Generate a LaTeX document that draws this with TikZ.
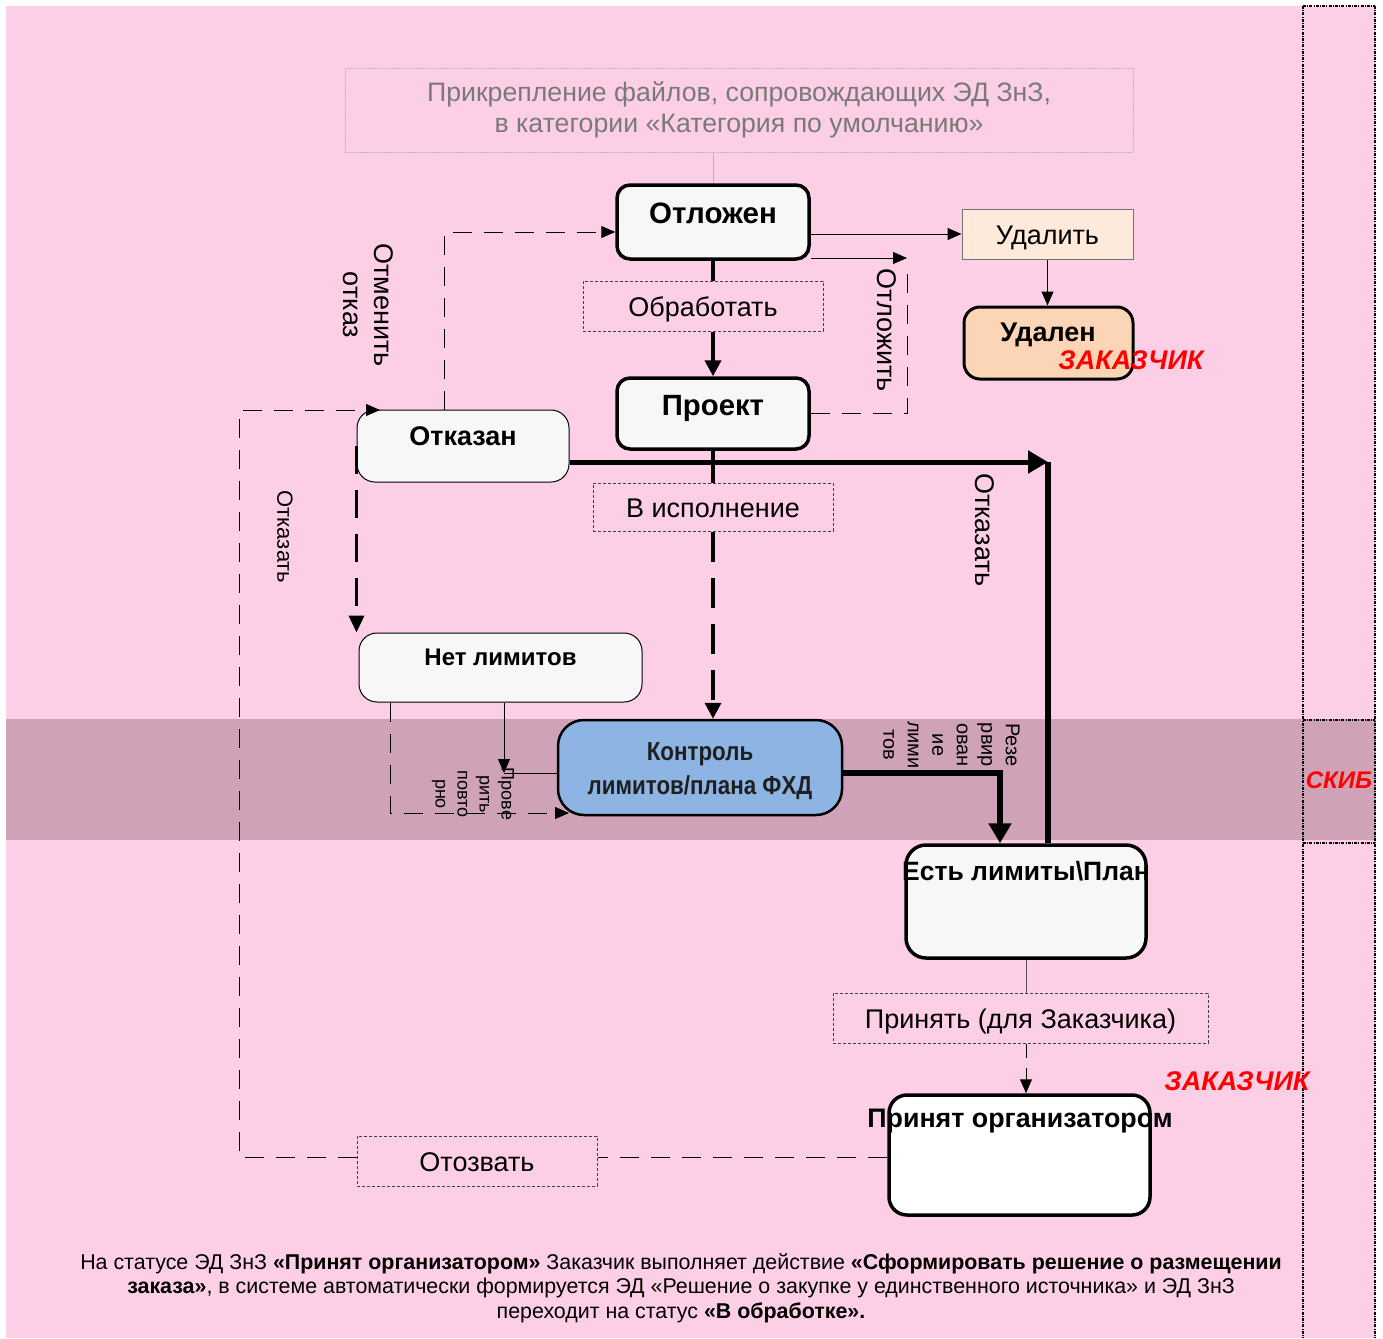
\documentclass[tikz,border=0pt]{standalone}
\usepackage{fontspec}
\setmainfont{Liberation Sans}
\usetikzlibrary{arrows.meta,calc}
\definecolor{pinkbg}{RGB}{253,207,231}
\definecolor{bandc}{RGB}{207,162,184}
\definecolor{boxfill}{RGB}{247,247,247}
\definecolor{peachA}{RGB}{253,234,218}
\definecolor{peachB}{RGB}{251,213,181}
\definecolor{blueb}{RGB}{142,180,227}
\definecolor{redz}{RGB}{255,0,0}
\newcommand\fsz[2]{\fontsize{#1}{#2}\selectfont}
\tikzset{
  statebox/.style={draw, rounded corners=13pt, fill=boxfill, inner sep=0pt, line width=3.5pt},
  thinstate/.style={draw, rounded corners=18pt, fill=boxfill, inner sep=0pt, line width=1pt},
  actbox/.style={draw=black!75, dash pattern=on 3pt off 2pt, line width=1pt, inner sep=0pt, font=\fsz{27}{32}, text height=24pt, text depth=2.6pt},
  stxt/.style={font=\bfseries\fsz{27}{32}},
  lbl/.style={font=\fsz{27}{31}, rotate=-90, align=center},
  smalllbl/.style={font=\fsz{20}{24.5}, rotate=-90, align=center},
  zak/.style={text=redz, font=\bfseries\itshape\fsz{27}{32}},
  thinarr/.style={line width=1pt, -{Triangle[length=14pt,width=12pt]}},
  thickarr/.style={line width=4pt, -{Triangle[length=20pt,width=22pt]}},
  midarr/.style={line width=4pt, -{Triangle[length=16pt,width=16pt]}},
  thinline/.style={line width=1pt, dash pattern=on 19pt off 12pt},
  thickdashA/.style={line width=3.5pt, dash pattern=on 28pt off 16pt},
  lanebord/.style={line width=1.6pt, dash pattern=on 3pt off 1.2pt on 1pt off 1.2pt},
}
\begin{document}
\begin{tikzpicture}[x=1pt,y=-1pt]
\useasboundingbox (0,0) rectangle (1383,1338);
\fill[white] (0,0) rectangle (1383,1338);
\fill[pinkbg] (6,6) rectangle (1376,1338);
\fill[bandc] (6,719) rectangle (1376,840);
\draw[lanebord] (1303,6) -- (1303,1338);
\draw[lanebord] (1375,6) -- (1375,1338);
\draw[lanebord] (1303,6) -- (1375,6);
\draw[lanebord] (1303,720) -- (1375,720);
\draw[lanebord] (1303,843) -- (1375,843);
\node[text=redz, font=\bfseries\itshape\fsz{24}{28}] (skib) at (1339,780) {СКИБ};

% top note box
\node[draw=gray!55, dash pattern=on 2pt off 1pt, line width=1pt, minimum width=788pt, minimum height=84pt, inner sep=0pt,
      align=center, text=gray!95!black, font=\fsz{26.7}{31}] (topbox) at (739,110)
      {Прикрепление файлов, сопровождающих ЭД ЗнЗ,\\в категории «Категория по умолчанию»};

% state nodes
\node[statebox, minimum width=192pt, minimum height=74pt] (otl) at (713,222) {};
\node[draw=black!55, fill=peachA, line width=1pt, minimum width=171pt, minimum height=50pt, inner sep=0pt, font=\fsz{27}{32}, text height=24pt, text depth=2.6pt] (udalit) at (1047.5,234) {Удалить};
\node[statebox, fill=peachB, line width=3pt, rounded corners=16pt, minimum width=169pt, minimum height=72pt] (udalen) at (1048.5,343) {};
\node[actbox, minimum width=240pt, minimum height=50pt] (obr) at (703,306) {Обработать};
\node[statebox, minimum width=192pt, minimum height=71pt] (proekt) at (713,413.5) {};
\node[thinstate, minimum width=212pt, minimum height=72pt] (otkazan) at (463,446) {};
\node[actbox, minimum width=240pt, minimum height=48pt] (visp) at (713,507) {В исполнение};
\node[thinstate, minimum width=283pt, minimum height=69pt] (net) at (500.5,667.5) {};
\node[draw, fill=blueb, line width=2.5pt, rounded corners=26pt, minimum width=284pt, minimum height=95pt, inner sep=0pt] (kontr) at (700,767.5) {};
\node[statebox, rounded corners=20pt, minimum width=240pt, minimum height=113pt] (est) at (1026,901.5) {};
\node[actbox, minimum width=375pt, minimum height=50pt] (prin) at (1020.5,1018) {Принять (для Заказчика)};
\node[statebox, fill=white, rounded corners=18pt, minimum width=261pt, minimum height=120pt] (orgz) at (1019.5,1155) {};
\node[actbox, minimum width=240pt, minimum height=50pt] (otozv) at (477,1161) {Отозвать};

% helper coordinates
\coordinate (cOtl) at (907,258);
\coordinate (cOtk) at (1048,462);
\coordinate (cOtm) at (444,232);
\coordinate (cL1) at (239,1157);
\coordinate (cL2) at (239,410);
\coordinate (cLtip) at (380,410);
\coordinate (cPr) at (504,773);
\coordinate (cPd) at (390,813);
\coordinate (cPdtip) at (569,813);
\coordinate (cRz) at (1000,773);

% connectors
\draw[gray!60, line width=1pt] (otl.north |- topbox.south) -- (otl.north);
\draw[thinarr] (otl.east |- udalit.west) -- (udalit.west);
\draw[thinarr] (udalit.south) -- (udalit.south |- udalen.north);
\draw[line width=4pt] (otl.south) -- (otl.south |- obr.north);
\draw[midarr] (otl.south |- obr.south) -- (proekt.north);
\draw[thinline] (proekt.east) -| ([yshift=-8pt]cOtl);
\draw[thinarr] (otl.east |- cOtl) -- (cOtl);
\draw[line width=4pt] (proekt.south) -- (proekt.south |- visp.north);
\draw[midarr, line width=3.5pt, dash pattern=on 30pt off 16pt] (proekt.south |- visp.south) -- (proekt.south |- kontr.north);
\draw[thickarr, line width=5pt] (otkazan.east |- cOtk) -- (cOtk);
\draw[line width=6pt] (cOtk) -- (cOtk |- est.north);
\draw[thinline, -{Triangle[length=14pt,width=12pt]}] (otkazan.north -| cOtm) -- (cOtm) -- (otl.west |- cOtm);
\draw[thickdashA, -{Triangle[length=17pt,width=15pt]}] (otkazan.west) -- (otkazan.west |- net.north);
\draw[thinline] (orgz.west |- cL1) -- (otozv.east |- cL1);
\draw[thinline, -{Triangle[length=14pt,width=12pt]}] (otozv.west |- cL1) -- (cL1) -- (cL2) -- (cLtip);
\draw[thinarr] (net.south -| cPr) -- (cPr);
\draw[line width=1pt] (cPr) -- (kontr.west |- cPr);
\draw[thinline, -{Triangle[length=14pt,width=12pt]}] (net.south -| cPd) -- (cPd) -- (cPdtip);
\draw[thickarr, line width=6pt] (kontr.east |- cRz) -- (cRz) -- (cRz |- est.north);
\draw[gray!70!black, line width=1pt] (est.south) -- (est.south |- prin.north);
\draw[line width=1pt, dash pattern=on 14pt off 10pt, -{Triangle[length=14pt,width=12pt]}] (est.south |- prin.south) -- (est.south |- orgz.north);

% state texts
\node[stxt, font=\bfseries\fsz{29.5}{34}] (otlT) at (713,213) {Отложен};
\node[stxt] (udalenT) at (1048,335) {Удален};
\node[zak] (zak1) at (1131,360) {ЗАКАЗЧИК};
\node[stxt, font=\bfseries\fsz{29.3}{34}] (proektT) at (713,408) {Проект};
\node[stxt] (otkazanT) at (463,436) {Отказан};
\node[stxt, font=\bfseries\fsz{24}{28}] (netT) at (500.5,657) {Нет лимитов};
\node[font=\bfseries\fsz{26}{34}, text=black!88, align=center, xscale=0.86] (kontrT) at (700,771) {Контроль\\лимитов/плана ФХД};
\node[stxt, font=\bfseries\fsz{26.5}{31}] (estT) at (1026,871) {Есть лимиты\textbackslash План};
\node[stxt, font=\bfseries\fsz{26.8}{31}] (orgzT) at (1020,1121) {Принят организатором};
\node[zak] (zak2) at (1237,1081) {ЗАКАЗЧИК};

% transition labels
\node[lbl] (lOtl) at (887,330) {Отложить};
\node[lbl] (lOtm) at (368,305) {Отменить\\отказ};
\node[lbl] (lOtk) at (985,530) {Отказать};
\node[lbl, font=\fsz{22}{26}] (lOtkL) at (285,537) {Отказать};
\node[smalllbl, font=\fsz{18}{22}] (lProv) at (473,794) {Прове\\рить\\повто\\рно};
\node[smalllbl] (lRez) at (951.5,745) {Резе\\рвир\\ован\\ие\\лими\\тов};

% bottom note
\node[align=center, font=\fsz{21.4}{24.5}] (note) at (681,1288)
 {На статусе ЭД ЗнЗ \textbf{«Принят организатором»} Заказчик выполняет действие \textbf{«Сформировать решение о размещении}\\
  \textbf{заказа»}, в системе автоматически формируется ЭД «Решение о закупке у единственного источника» и ЭД ЗнЗ\\
  переходит на статус \textbf{«В обработке».}};
\end{tikzpicture}
\end{document}
